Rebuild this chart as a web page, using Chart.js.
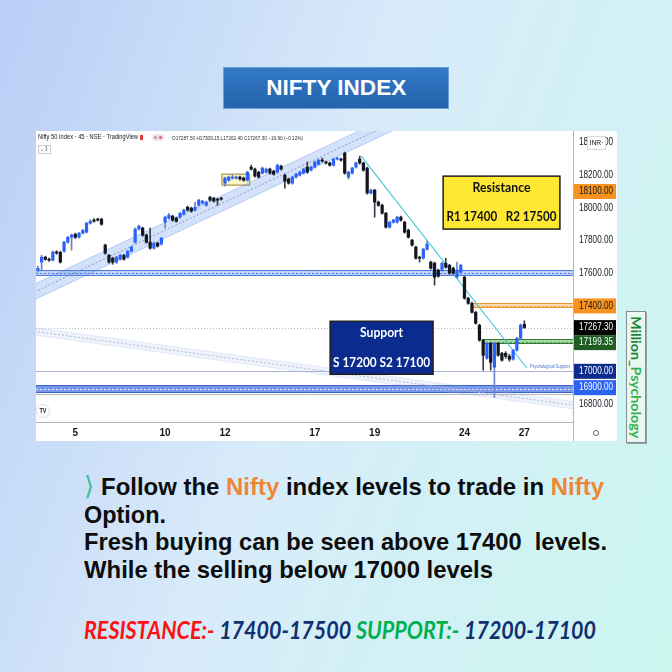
<!DOCTYPE html>
<html>
<head>
<meta charset="utf-8">
<title>Nifty index levels</title>
<script src="https://cdn.jsdelivr.net/npm/chart.js@4.4.1/dist/chart.umd.min.js"></script>
<style>
    html, body { margin: 0; padding: 0; }
    body {
        width: 672px; height: 672px; overflow: hidden; position: relative;
        background: linear-gradient(110deg, #bacdf6 0%, #d8ebfa 45%, #cbf7ef 100%);
        font-family: "Liberation Sans", Arial, sans-serif;
    }
    #title {
        position: absolute; left: 223px; top: 67px; width: 224px; height: 40px;
        background: linear-gradient(#3279c4, #2563ae); border: 1px solid #6a9fd8;
        display: flex; align-items: center; justify-content: center;
    }
    #title span { color: #fff; font-weight: bold; font-size: 22px; white-space: nowrap; transform-origin: 50% 50%; }
    #panel { position: absolute; left: 36px; top: 131px; width: 581px; height: 310px; background: #fff; }
    .line {
        position: absolute; white-space: nowrap; font-weight: bold; font-size: 24px;
        line-height: 28px; color: #0d0d0d; transform-origin: 0 50%;
    }
    .or { color: #ef8636; }
    #chev { position: absolute; left: 84px; top: 471px; font-family: "DejaVu Sans"; font-size: 26px; line-height: 30px; color: #3cbf9c; }
    #levels { font-family: Lato, "Open Sans", sans-serif; font-style: italic; }
    .red { color: #ff1010; }
    .navy { color: #10306f; }
    .green { color: #00b04f; }
    #brand {
        position: absolute; left: 626px; top: 311px; width: 18px; height: 130px;
        background: #eaf7f1; border: 1px solid #7f8f95; box-shadow: 1px 1px 0 #93a3a6;
        display: flex; align-items: center; justify-content: center; overflow: hidden;
    }
    #brand span {
        writing-mode: vertical-rl; font-family: Lato, sans-serif; font-weight: bold;
        font-size: 14px; white-space: nowrap; transform-origin: 50% 50%;
    }
</style>
</head>
<body>

<div id="title"><span class="fitc" data-w="140">NIFTY INDEX</span></div>

<div id="panel"><canvas id="chart" width="581" height="310"></canvas></div>

<div id="brand"><span class="fitv" data-h="122"><span style="color:#17843b">Million_</span><span style="color:#33b24b">Psychology</span></span></div>

<div id="chev">⟩</div>
<div class="line fit" data-w="503" style="left:101px; top:473px;">Follow the <span class="or">Nifty</span> index levels to trade in <span class="or">Nifty</span></div>
<div class="line fit" data-w="82" style="left:84px; top:501px;">Option.</div>
<div class="line fit" data-w="523" style="left:84px; top:528px;">Fresh buying can be seen above 17400&nbsp; levels.</div>
<div class="line fit" data-w="409" style="left:84px; top:556px;">While the selling below 17000 levels</div>
<div id="levels" class="line fit" data-w="512" style="left:84px; top:616px;"><span class="red">RESISTANCE:-</span> <span class="navy">17400-17500</span> <span class="green">SUPPORT:-</span> <span class="navy">17200-17100</span></div>

<script>
    // 45 minute candles (index 0 = first bar on the left)
    const open = [17619, 17668, 17698, 17685, 17680, 17730, 17728, 17735, 17790, 17820,
        17838, 17820, 17845, 17851, 17906, 17925, 17931, 17931, 17772, 17710,
        17692, 17668, 17686, 17710, 17698, 17735, 17790, 17870, 17876, 17833,
        17790, 17753, 17784, 17778, 17912, 17937, 17949, 17937, 17943, 17961,
        18004, 17998, 17986, 18016, 18029, 18016, 18065, 18059, 18053, 18059,
        18151, 18169, 18182, 18182, 18188, 18182, 18169, 18249, 18237, 18218,
        18212, 18218, 18237, 18224, 18218, 18255, 18200, 18176, 18151, 18188,
        18200, 18212, 18249, 18231, 18249, 18267, 18292, 18280, 18274, 18261,
        18298, 18298, 18335, 18188, 18212, 18249, 18298, 18274, 18243, 18090,
        18108, 18035, 18016, 17967, 17882, 17912, 17912, 17943, 17912, 17863,
        17802, 17760, 17698, 17692, 17747, 17668, 17661, 17619, 17619, 17661,
        17649, 17631, 17576, 17606, 17576, 17447, 17416, 17361, 17282, 17190,
        17080, 17172, 17025, 17172, 17110, 17110, 17092, 17074, 17129, 17202,
        17287.50];
    const high = [17643, 17710, 17704, 17692, 17736, 17738, 17735, 17795, 17826, 17840,
        17845, 17850, 17868, 17912, 17928, 17935, 17937, 17937, 17778, 17716,
        17698, 17704, 17716, 17716, 17741, 17766, 17876, 17894, 17882, 17840,
        17876, 17790, 17790, 17820, 17949, 17967, 17955, 17943, 17973, 17992,
        18010, 18004, 18035, 18053, 18047, 18041, 18071, 18065, 18059, 18065,
        18188, 18194, 18200, 18194, 18194, 18188, 18224, 18261, 18243, 18224,
        18249, 18243, 18243, 18231, 18267, 18261, 18206, 18182, 18194, 18212,
        18224, 18243, 18280, 18255, 18286, 18298, 18304, 18286, 18280, 18304,
        18310, 18304, 18341, 18224, 18249, 18280, 18316, 18280, 18249, 18114,
        18114, 18041, 18023, 17973, 17918, 17931, 17949, 17949, 17918, 17870,
        17808, 17766, 17704, 17753, 17796, 17674, 17668, 17625, 17668, 17692,
        17655, 17637, 17668, 17655, 17582, 17453, 17423, 17367, 17288, 17196,
        17178, 17178, 17178, 17178, 17116, 17120, 17104, 17135, 17208, 17290,
        17309.15];
    const low = [17607, 17619, 17680, 17672, 17675, 17716, 17662, 17728, 17784, 17741,
        17812, 17815, 17840, 17846, 17900, 17912, 17919, 17894, 17716, 17662,
        17655, 17660, 17680, 17680, 17692, 17730, 17784, 17863, 17826, 17784,
        17747, 17747, 17760, 17772, 17876, 17931, 17918, 17912, 17937, 17955,
        17980, 17973, 17980, 18010, 18023, 18010, 18041, 18035, 18016, 18047,
        18133, 18163, 18176, 18176, 18169, 18163, 18163, 18231, 18188, 18182,
        18206, 18212, 18206, 18200, 18212, 18231, 18120, 18145, 18145, 18182,
        18194, 18206, 18212, 18224, 18243, 18261, 18280, 18267, 18255, 18255,
        18292, 18286, 18206, 18176, 18206, 18243, 18267, 18224, 18084, 18084,
        17943, 18010, 17961, 17876, 17876, 17906, 17906, 17918, 17845, 17815,
        17766, 17686, 17668, 17686, 17741, 17625, 17527, 17576, 17613, 17631,
        17594, 17594, 17570, 17600, 17441, 17410, 17355, 17288, 17184, 17007,
        17074, 17007, 16841, 17092, 17062, 17080, 17062, 17068, 17123, 17196,
        17262.40];
    const close = [17630, 17698, 17685, 17680, 17730, 17724, 17668, 17790, 17820, 17833,
        17820, 17845, 17863, 17906, 17918, 17918, 17925, 17900, 17723, 17668,
        17668, 17698, 17710, 17686, 17735, 17760, 17870, 17888, 17833, 17790,
        17753, 17784, 17766, 17815, 17943, 17955, 17925, 17918, 17967, 17986,
        17986, 17980, 18004, 18047, 18041, 18035, 18047, 18041, 18047, 18053,
        18182, 18188, 18188, 18188, 18176, 18169, 18218, 18237, 18194, 18188,
        18243, 18237, 18212, 18206, 18261, 18237, 18163, 18151, 18188, 18206,
        18218, 18237, 18218, 18249, 18280, 18292, 18286, 18274, 18261, 18298,
        18304, 18292, 18212, 18218, 18243, 18274, 18274, 18231, 18090, 18108,
        18035, 18016, 17967, 17882, 17912, 17925, 17943, 17925, 17851, 17820,
        17772, 17692, 17692, 17747, 17778, 17631, 17576, 17582, 17661, 17637,
        17600, 17600, 17619, 17649, 17447, 17416, 17361, 17294, 17190, 17098,
        17172, 17055, 17172, 17098, 17068, 17092, 17074, 17129, 17202, 17282,
        17267.30];

    // date labels and the bar index where each day starts
    const dayLabels = ['5', '10', '12', '17', '19', '24', '27'];
    const dayStarts = [10, 34, 50, 74, 90, 114, 130];
    const priceTicks = [16800, 17000, 17200, 17400, 17600, 17800, 18000, 18200, 18400];

    // price tags on the right axis
    const tagValues = [18100, 17400, 17267.30, 17199.35, 17000, 16900];

    // drawn levels
    const zoneBlue = [17582, 17620];
    const zoneDeep = [16866, 16915];
    const zoneOrange = [17385, 17418];
    const zoneGreen = [17165, 17197];
    const orangeFrom = 116.5, greenFrom = 118.7;
    const psychLevel = 17000;
    const boxX = [49.2, 56.6], boxY = [18139, 18206];

    // channels and trend line (bar index, price)
    const riseX = [-1, 100], riseHi = [17533, 18624], riseMid = [17485, 18576], riseLo = [17437, 18528];
    const fallX = [-1, 144], fallHi = [17268, 16813], fallMid = [17245, 16790], fallLo = [17222, 16767];
    const trendX = [86.4, 130.7], trendY = [18316, 17019];

    // note boxes: bar index span and price span
    const resX = [108.3, 139.5], resY = [17870, 18194];
    const supX = [78.1, 105.6], supY = [16982, 17306];

    const bars = close.map((c, i) => i);
    const up = bars.map(i => close[i] >= open[i]);

    function pts(xs, ys) {
        return xs.map((x, k) => ({x: x, y: ys[k]}));
    }

    function fitText(ctx, s, x, y, font, color, w, align) {
        ctx.save();
        ctx.font = font;
        ctx.fillStyle = color;
        ctx.textBaseline = 'middle';
        ctx.textAlign = align || 'left';
        const k = w ? w / ctx.measureText(s).width : 1;
        ctx.translate(x, y);
        ctx.scale(k, 1);
        ctx.fillText(s, 0, 0);
        ctx.restore();
    }

    function zone(ctx, a, ys, x0, lo, hi, fill, edge, dot) {
        const t = Math.round(ys.getPixelForValue(hi));
        const b = Math.round(ys.getPixelForValue(lo));
        ctx.fillStyle = fill;
        ctx.fillRect(x0, t, a.right - x0, b - t);
        ctx.lineWidth = 1;
        ctx.strokeStyle = edge;
        ctx.beginPath();
        ctx.moveTo(x0, t + 0.5); ctx.lineTo(a.right, t + 0.5);
        ctx.moveTo(x0, b - 0.5); ctx.lineTo(a.right, b - 0.5);
        ctx.stroke();
        ctx.setLineDash([2, 2]);
        ctx.strokeStyle = dot;
        const m = Math.round((t + b) / 2) + 0.5;
        ctx.beginPath(); ctx.moveTo(x0, m); ctx.lineTo(a.right, m); ctx.stroke();
        ctx.setLineDash([]);
    }

    function noteBox(ctx, xs, ys, bx, by, fill, color, lines) {
        const l = xs.getPixelForValue(bx[0]), r = xs.getPixelForValue(bx[1]);
        const t = ys.getPixelForValue(by[1]), b = ys.getPixelForValue(by[0]);
        ctx.fillStyle = fill;
        ctx.fillRect(l, t, r - l, b - t);
        ctx.strokeStyle = '#1e1e1e';
        ctx.lineWidth = 1.5;
        ctx.strokeRect(l, t, r - l, b - t);
        lines.forEach(ln => fitText(ctx, ln[0], (l + r) / 2, t + (b - t) * ln[1], ln[2], color, ln[3], 'center'));
    }

    const levels = {
        id: 'levels',
        beforeDatasetsDraw(chart) {
            const ctx = chart.ctx, a = chart.chartArea, xs = chart.scales.x, ys = chart.scales.y;
            ctx.save();
            ctx.beginPath();
            ctx.rect(a.left, a.top, a.right - a.left, a.bottom - a.top);
            ctx.clip();

            // last price dotted line
            const lp = Math.round(ys.getPixelForValue(close[close.length - 1])) + 0.5;
            ctx.strokeStyle = '#b9bcc4';
            ctx.setLineDash([1, 2]);
            ctx.beginPath(); ctx.moveTo(a.left, lp); ctx.lineTo(a.right, lp); ctx.stroke();
            ctx.setLineDash([]);

            // psychological level
            const pp = Math.round(ys.getPixelForValue(psychLevel)) + 0.5;
            ctx.strokeStyle = '#a9b3d3';
            ctx.beginPath(); ctx.moveTo(a.left, pp); ctx.lineTo(a.right, pp); ctx.stroke();

            zone(ctx, a, ys, a.left, zoneBlue[0], zoneBlue[1], '#c0d1f6', '#4f7bdf', '#4f7bdf');
            zone(ctx, a, ys, a.left, zoneDeep[0], zoneDeep[1], '#7a98ec', '#3760d1', '#dfe7ff');
            const gb = Math.round(ys.getPixelForValue(zoneDeep[0])) + 1.5;
            ctx.strokeStyle = '#b5b8c2';
            ctx.beginPath(); ctx.moveTo(a.left, gb); ctx.lineTo(a.right, gb); ctx.stroke();
            zone(ctx, a, ys, xs.getPixelForValue(orangeFrom), zoneOrange[0], zoneOrange[1], '#fbd8ab', '#f0962f', '#f3a443');
            zone(ctx, a, ys, xs.getPixelForValue(greenFrom), zoneGreen[0], zoneGreen[1], '#abd4a6', '#2f7d33', '#4e9a51');

            // consolidation box
            const l = xs.getPixelForValue(boxX[0]), r = xs.getPixelForValue(boxX[1]);
            const t = ys.getPixelForValue(boxY[1]), b = ys.getPixelForValue(boxY[0]);
            ctx.fillStyle = '#fcf5c6';
            ctx.fillRect(l, t, r - l, b - t);
            ctx.strokeStyle = '#b09d52';
            ctx.lineWidth = 1.3;
            ctx.strokeRect(l, t, r - l, b - t);
            ctx.restore();
        },
        afterDatasetsDraw(chart) {
            const ctx = chart.ctx, a = chart.chartArea, xs = chart.scales.x, ys = chart.scales.y;

            noteBox(ctx, xs, ys, resX, resY, '#ffe833', '#111', [
                ['Resistance', 0.22, 'bold 13px Lato', 58],
                ['R1 17400   R2 17500', 0.76, 'bold 14px Lato', 110]
            ]);
            noteBox(ctx, xs, ys, supX, supY, '#0b2b8f', '#fff', [
                ['Support', 0.21, 'bold 14px Lato', 43],
                ['S 17200 S2 17100', 0.77, 'bold 14px Lato', 97]
            ]);

            fitText(ctx, 'Psychological Support', xs.getPixelForValue(131.5), ys.getPixelForValue(17027),
                '5px "Liberation Sans"', '#4a6fd0', 40);

            // header line
            fitText(ctx, 'Nifty 50 Index · 45 · NSE · TradingView', a.left + 2, a.top + 6,
                '7px "Liberation Sans"', '#131722', 100);
            ctx.fillStyle = '#e53935';
            ctx.fillRect(a.left + 104, a.top + 4, 3, 5);
            ctx.fillStyle = '#f1e3ea';
            ctx.beginPath(); ctx.roundRect(a.left + 116, a.top + 3, 12, 7, 3.5); ctx.fill();
            ctx.fillStyle = '#b9a3ad';
            ctx.beginPath(); ctx.arc(a.left + 119.5, a.top + 6.5, 1.6, 0, Math.PI * 2); ctx.fill();
            ctx.fillStyle = '#e4637e';
            ctx.beginPath(); ctx.arc(a.left + 124.5, a.top + 6.5, 1.6, 0, Math.PI * 2); ctx.fill();
            fitText(ctx, 'O17287.50 H17309.15 L17262.40 C17267.30 −19.90 (−0.12%)', a.left + 136, a.top + 7,
                '6px "Liberation Sans"', '#2a2e39', 131);
            ctx.fillStyle = '#fff';
            ctx.strokeStyle = '#c9ccd3';
            ctx.lineWidth = 1;
            ctx.fillRect(a.left + 2.5, a.top + 14.5, 12, 8);
            ctx.strokeRect(a.left + 2.5, a.top + 14.5, 12, 8);
            fitText(ctx, '⌄ 3', a.left + 4.5, a.top + 18.5, '6px "DejaVu Sans"', '#333', 7);

            // TradingView logo
            ctx.fillStyle = '#fff';
            ctx.strokeStyle = '#dcdde2';
            ctx.beginPath(); ctx.arc(a.left + 7, a.bottom - 11, 6.5, 0, Math.PI * 2); ctx.fill(); ctx.stroke();
            fitText(ctx, 'TV', a.left + 7, a.bottom - 11, 'bold 7px "Liberation Sans"', '#131722', 7, 'center');
        },
        afterDraw(chart) {
            const ctx = chart.ctx, a = chart.chartArea, ys = chart.scales.y;
            const W = chart.width, H = chart.height;
            const tx = a.right + 6;
            const font = '10px "Liberation Sans"';

            // vertical divider through the time axis
            ctx.strokeStyle = '#b2b5be';
            ctx.lineWidth = 1;
            ctx.beginPath(); ctx.moveTo(a.right + 0.5, a.bottom); ctx.lineTo(a.right + 0.5, H); ctx.stroke();

            ys.ticks.forEach(t => {
                const py = ys.getPixelForValue(t.value);
                if (tagValues.some(v => Math.abs(ys.getPixelForValue(v) - py) < 9)) return;
                fitText(ctx, t.value.toFixed(2), tx, py, font, '#131722', 34);
            });

            const tagBg = ['#f7931e', '#f7931e', '#000000', '#1e5e22', '#0c2d8d', '#2a62f2'];
            const tagFg = ['#131722', '#131722', '#ffffff', '#ffffff', '#ffffff', '#ffffff'];
            let prev = -1e9;
            tagValues.forEach((v, k) => {
                let py = ys.getPixelForValue(v);
                if (py - 7.5 < prev) py = prev + 7.5;
                prev = py + 7.5;
                ctx.fillStyle = tagBg[k];
                ctx.fillRect(a.right + 1, py - 7.5, W - a.right - 2, 15);
                fitText(ctx, v.toFixed(2), tx, py, font, tagFg[k], 34);
            });

            // currency box
            ctx.fillStyle = '#fff';
            ctx.strokeStyle = '#d6d8de';
            ctx.fillRect(a.right + 14.5, a.top + 5.5, 18, 13);
            ctx.strokeRect(a.right + 14.5, a.top + 5.5, 18, 13);
            fitText(ctx, 'INR·', a.right + 16.5, a.top + 12, '8px "Liberation Sans"', '#131722', 14);

            // settings dot
            ctx.strokeStyle = '#6a6d78';
            ctx.beginPath(); ctx.arc(a.right + 23, a.bottom + 11, 2.6, 0, Math.PI * 2); ctx.stroke();
        }
    };

    const line = (d, color, extra) => Object.assign({
        type: 'line', data: d, borderColor: color, borderWidth: 1, pointRadius: 0,
        order: 5, clip: 0, tension: 0
    }, extra || {});

    new Chart(document.getElementById('chart'), {
        type: 'bar',
        data: {
            datasets: [
                {
                    label: 'body', data: bars.map(i => ({x: i, y: [open[i], close[i]]})),
                    backgroundColor: bars.map(i => up[i] ? '#2962ff' : '#131722'),
                    barThickness: 2.6, minBarLength: 1, grouped: false, order: 0
                },
                {
                    label: 'wick', data: bars.map(i => ({x: i, y: [low[i], high[i]]})),
                    backgroundColor: bars.map(i => up[i] ? '#6b83c8' : '#3a3d46'),
                    barThickness: 1, grouped: false, order: 1
                },
                line(pts(riseX, riseHi), 'rgba(90,140,235,0.35)'),
                line(pts(riseX, riseLo), 'rgba(90,140,235,0.35)', {fill: '-1', backgroundColor: 'rgba(90,140,235,0.26)'}),
                line(pts(riseX, riseMid), '#98a2b4', {borderDash: [2, 2]}),
                line(pts(fallX, fallHi), 'rgba(150,175,230,0.2)'),
                line(pts(fallX, fallLo), 'rgba(150,175,230,0.2)', {fill: '-1', backgroundColor: 'rgba(150,175,230,0.16)'}),
                line(pts(fallX, fallMid), '#b7bdcb', {borderDash: [2, 2]}),
                line(pts(trendX, trendY), '#3ec4d5', {borderWidth: 1.1, order: 2})
            ]
        },
        options: {
            responsive: false,
            animation: false,
            layout: {padding: 0},
            plugins: {legend: {display: false}, tooltip: {enabled: false}},
            scales: {
                x: {
                    type: 'linear', min: -0.5, max: 143, offset: false,
                    grid: {display: false, drawTicks: false},
                    border: {color: '#b2b5be'},
                    afterBuildTicks: s => { s.ticks = dayStarts.map(v => ({value: v})); },
                    afterFit: s => { s.height = 19; },
                    ticks: {
                        autoSkip: false, maxRotation: 0, padding: 5, color: '#131722',
                        font: {family: 'Liberation Sans', size: 10, weight: 'bold'},
                        callback: v => dayStarts.indexOf(v) >= 0 ? dayLabels[dayStarts.indexOf(v)] : ''
                    }
                },
                y: {
                    position: 'right', min: 16690, max: 18470,
                    grid: {display: false, drawTicks: false},
                    border: {color: '#b2b5be'},
                    ticks: {display: false},
                    afterBuildTicks: s => { s.ticks = priceTicks.map(v => ({value: v})); },
                    afterFit: s => { s.width = 44; }
                }
            }
        },
        plugins: [levels]
    });

    // squeeze the text lines to the widths in the picture
    document.querySelectorAll('.fit').forEach(el => {
        el.style.transform = 'scaleX(' + (el.dataset.w / el.getBoundingClientRect().width) + ')';
    });
    document.querySelectorAll('.fitc').forEach(el => {
        el.style.transform = 'scaleX(' + (el.dataset.w / el.getBoundingClientRect().width) + ')';
    });
    document.querySelectorAll('.fitv').forEach(el => {
        el.style.transform = 'scaleY(' + (el.dataset.h / el.getBoundingClientRect().height) + ')';
    });
</script>

</body>
</html>
